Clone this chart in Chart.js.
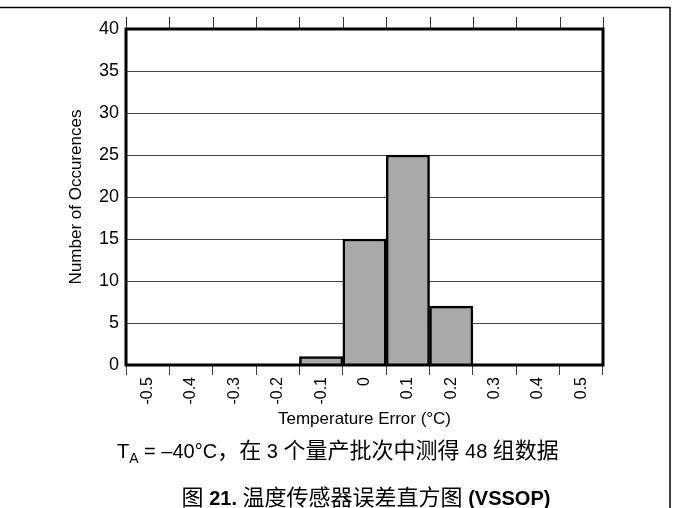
<!DOCTYPE html>
<html><head><meta charset="utf-8">
<script src="https://cdn.jsdelivr.net/npm/chart.js@4/dist/chart.umd.min.js"></script>
<style>
html,body{margin:0;padding:0;background:#fff;}
#wrap{position:relative;width:673px;height:508px;overflow:hidden;}
canvas{position:absolute;left:0;top:0;}
.cap{position:absolute;font-family:"Liberation Sans",Arial,sans-serif;font-size:20px;color:#000;white-space:nowrap;line-height:36px;}
.cap .c{font-family:"Noto Sans CJK SC","Noto Sans CJK JP",sans-serif;font-size:22px;}
.cap sub{font-size:14px;vertical-align:-5px;line-height:0;}
</style></head>
<body>
<div id="wrap">
<canvas id="c" width="673" height="508"></canvas>
<div class="cap" id="cap1" style="left:117px;top:430px;">T<sub>A</sub> = –40°C<span class="c">，在</span> 3 <span class="c">个量产批次中测得</span> 48 <span class="c">组数据</span></div>
<div class="cap" id="cap2" style="left:0;width:732px;text-align:center;top:477px;"><span class="c">图</span> <b>21.</b> <span class="c">温度传感器误差直方图</span> <b>(VSSOP)</b></div>
</div>
<script>
const categories = ['-0.5','-0.4','-0.3','-0.2','-0.1','0','0.1','0.2','0.3','0.4','0.5'];
const counts = [0, 0, 0, 0, 1, 15, 25, 7, 0, 0, 0];
const yMin = 0, yMax = 40, yStep = 5;
const xTitle = 'Temperature Error (°C)';
const yTitle = 'Number of Occurences';

const FONT = '"Liberation Sans", Arial, sans-serif';

const framePlugin = {
  id: 'framePlugin',
  beforeDraw(chart) {
    const ctx = chart.ctx;
    ctx.save();
    ctx.strokeStyle = '#000';
    ctx.lineWidth = 1.5;
    ctx.beginPath();
    ctx.moveTo(0, 7.5);
    ctx.lineTo(670, 7.5);
    ctx.lineTo(670, 508);
    ctx.stroke();
    ctx.restore();
  },
  afterDatasetsDraw(chart) {
    const {ctx, chartArea: a, scales: {x}} = chart;
    ctx.save();
    ctx.strokeStyle = '#333';
    ctx.lineWidth = 1;
    for (let i = 0; i <= categories.length; i++) {
      const px = Math.round(x.getPixelForValue(i - 0.5)) + 0.5;
      ctx.beginPath();
      ctx.moveTo(px, a.top - 12);
      ctx.lineTo(px, a.top);
      ctx.stroke();
    }
    ctx.strokeStyle = '#000';
    ctx.lineWidth = 3;
    ctx.strokeRect(a.left, a.top, a.right - a.left, a.bottom - a.top);
    ctx.restore();
  }
};

new Chart(document.getElementById('c'), {
  type: 'bar',
  data: {
    labels: categories,
    datasets: [{
      data: counts,
      backgroundColor: '#a9a9a9',
      borderColor: '#000',
      borderWidth: 2.5,
      borderSkipped: 'start',
      categoryPercentage: 1,
      barPercentage: 1
    }]
  },
  options: {
    responsive: false,
    animation: false,
    layout: { padding: { top: 29, right: 70, bottom: 78, left: 0 } },
    plugins: { legend: { display: false }, tooltip: { enabled: false } },
    scales: {
      x: {
        grid: { drawOnChartArea: false, offset: true, tickLength: 10, color: '#444', lineWidth: 1 },
        border: { display: false },
        ticks: { color: '#000', font: { family: FONT, size: 16 }, minRotation: 90, maxRotation: 90, autoSkip: false, padding: 2 },
        title: { display: true, text: xTitle, color: '#000', font: { family: FONT, size: 17 }, padding: { top: 4, bottom: 0 } },
        afterFit(s) { s.height = 65; }
      },
      y: {
        min: yMin, max: yMax,
        ticks: { stepSize: yStep, color: '#000', font: { family: FONT, size: 18 }, padding: 7 },
        grid: { drawTicks: false, color: '#444', lineWidth: 1 },
        border: { display: false },
        title: { display: true, text: yTitle, color: '#000', font: { family: FONT, size: 17 }, padding: { top: 66, bottom: 0 } },
        afterFit(s) { s.width = 126; }
      }
    }
  },
  plugins: [framePlugin]
});
</script>
</body></html>
